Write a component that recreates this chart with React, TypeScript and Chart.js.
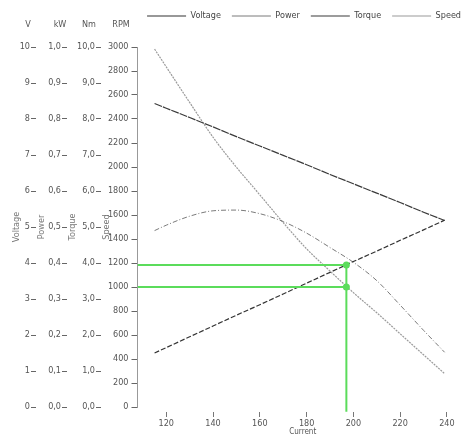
import { useEffect, useRef } from "react";
import { Chart, registerables } from "chart.js";

Chart.register(...registerables);

// ---- data ----
const currents = [115, 120, 130, 140, 150, 160, 170, 180, 190, 200, 210, 220, 230, 239];
const voltage = [1.5, 1.65, 1.95, 2.25, 2.55, 2.84, 3.14, 3.44, 3.74, 4.04, 4.33, 4.63, 4.92, 5.19];
const power = [0.49, 0.505, 0.53, 0.545, 0.547, 0.537, 0.515, 0.483, 0.443, 0.402, 0.351, 0.283, 0.213, 0.152];
const torque = [8.43, 8.3, 8.04, 7.78, 7.51, 7.25, 6.99, 6.73, 6.46, 6.2, 5.94, 5.68, 5.41, 5.18];
const speed = [2983, 2834, 2538, 2248, 1998, 1768, 1536, 1318, 1133, 953, 785, 610, 435, 278];

const seriesNames = ["Voltage", "Power", "Torque", "Speed"];
const unitLabels = ["V", "kW", "Nm", "RPM"];
const xTickValues = [120, 140, 160, 180, 200, 220, 240];
const xMin = 107.7;
const xMax = 249;
const xTitle = "Current";

const opCurrent = 197;
const opSpeedLevels = [1183, 1000];
const opFloor = -40;

const FONT = "'Liberation Sans Narrow', 'DejaVu Sans Condensed', 'Liberation Sans', Arial, sans-serif";
const GREEN = "#5bdc5b";

const comma1 = (v: number) => v.toFixed(1).replace(".", ",");

function yAxis(opts: {
  max: number;
  step: number;
  fmt: (v: number) => string;
  title: string;
  weight: number;
  width: number;
  rpm?: boolean;
}) {
  return {
    type: "linear" as const,
    position: "left" as const,
    weight: opts.weight,
    min: 0,
    max: opts.max,
    ticks: {
      stepSize: opts.step,
      color: "#555",
      padding: opts.rpm ? 3 : 1,
      font: { family: FONT, size: 9 },
      autoSkip: false,
      callback: (v: any) => opts.fmt(Number(v)),
    },
    grid: {
      display: true,
      drawOnChartArea: false,
      drawTicks: true,
      tickLength: opts.rpm ? 6 : 5,
      tickColor: "#666",
      tickWidth: 1,
    },
    border: opts.rpm
      ? { display: true, color: "#999", dash: [1, 2], width: 1 }
      : { display: false },
    title: {
      display: true,
      text: opts.title,
      color: "#777",
      font: { family: FONT, size: 9 },
      padding: 0,
    },
    afterFit: (s: any) => {
      s.width = opts.width;
    },
  };
}

const unitLabelPlugin = {
  id: "unitLabels",
  afterDraw(chart: any) {
    const ids = ["yV", "yP", "yT", "yS"];
    const offsets = [8, 7, 12, 16.5];
    const ctx = chart.ctx;
    ctx.save();
    ctx.font = `9px ${FONT}`;
    ctx.fillStyle = "#555";
    ctx.textAlign = "center";
    ctx.textBaseline = "middle";
    ids.forEach((id, i) => {
      const s = chart.scales[id];
      ctx.fillText(unitLabels[i], s.right - offsets[i], chart.chartArea.top - 22);
    });
    ctx.restore();
  },
};

export default function App() {
  const ref = useRef<HTMLCanvasElement | null>(null);

  useEffect(() => {
    if (!ref.current) return;
    const pts = (ys: number[]) => currents.map((x, i) => ({ x, y: ys[i] }));

    const chart = new Chart(ref.current, {
      type: "line",
      data: {
        datasets: [
          {
            label: seriesNames[0],
            data: pts(voltage),
            yAxisID: "yV",
            borderColor: "#333",
            backgroundColor: "#333",
            borderWidth: 1.2,
            borderDash: [5, 2],
            pointRadius: 0,
          },
          {
            label: seriesNames[1],
            data: pts(power),
            yAxisID: "yP",
            borderColor: "#7a7a7a",
            backgroundColor: "#7a7a7a",
            borderWidth: 1,
            borderDash: [5, 2, 1, 2],
            pointRadius: 0,
            cubicInterpolationMode: "monotone",
          },
          {
            label: seriesNames[2],
            data: pts(torque),
            yAxisID: "yT",
            borderColor: "#3a3a3a",
            backgroundColor: "#3a3a3a",
            borderWidth: 1.2,
            borderDash: [8, 1],
            pointRadius: 0,
          },
          {
            label: seriesNames[3],
            data: pts(speed),
            yAxisID: "yS",
            borderColor: "#9a9a9a",
            backgroundColor: "#9a9a9a",
            borderWidth: 1.2,
            borderDash: [2, 1],
            pointRadius: 0,
            cubicInterpolationMode: "monotone",
          },
          ...opSpeedLevels.map((lvl, i) => ({
            label: "op" + i,
            data: [
              { x: xMin, y: lvl },
              { x: opCurrent, y: lvl },
            ],
            yAxisID: "yS",
            borderColor: GREEN,
            backgroundColor: GREEN,
            borderWidth: 2,
            pointRadius: [0, 3.5],
            pointBackgroundColor: GREEN,
            pointBorderWidth: 0,
            order: -1,
          })),
          {
            label: "opV",
            data: [
              { x: opCurrent, y: opSpeedLevels[0] },
              { x: opCurrent, y: opFloor },
            ],
            yAxisID: "yS",
            borderColor: GREEN,
            backgroundColor: GREEN,
            borderWidth: 2,
            pointRadius: 0,
            clip: false as any,
            order: -1,
          },
        ] as any,
      },
      options: {
        animation: false,
        responsive: false,
        maintainAspectRatio: false,
        layout: { padding: { top: 0.5, left: 11, right: 0, bottom: 0 } },
        plugins: {
          tooltip: { enabled: false },
          legend: {
            display: true,
            position: "top",
            align: "end",
            weight: 3000,
            labels: {
              usePointStyle: true,
              pointStyle: "line",
              pointStyleWidth: 39,
              boxWidth: 39,
              boxHeight: 9,
              padding: 11,
              color: "#444",
              font: { family: FONT, size: 9 },
              filter: (item: any) => seriesNames.includes(item.text),
            },
          } as any,
          title: {
            display: true,
            text: "",
            position: "top",
            font: { family: FONT, size: 10 },
            padding: { top: 0, bottom: 4.5 },
          },
        },
        scales: {
          x: {
            type: "linear",
            position: "bottom",
            min: xMin,
            max: xMax,
            afterBuildTicks: (axis: any) => {
              axis.ticks = xTickValues.map((value) => ({ value }));
            },
            ticks: {
              color: "#555",
              padding: 1,
              maxRotation: 0,
              autoSkip: false,
              font: { family: FONT, size: 9 },
              callback: (v: any) => String(v),
            },
            grid: {
              display: true,
              drawOnChartArea: false,
              drawTicks: true,
              tickLength: 10,
              tickColor: "#777",
              tickBorderDash: [0, 5, 5, 20],
            },
            border: { display: false },
            title: {
              display: true,
              text: xTitle,
              color: "#555",
              font: { family: FONT, size: 8 },
              padding: { top: 0, bottom: 2 },
            },
            afterFit: (s: any) => {
              s.height = 32;
            },
          },
          yV: yAxis({ max: 10, step: 1, fmt: (v) => String(Math.round(v)), title: "Voltage", weight: 4, width: 25 }),
          yP: yAxis({ max: 1, step: 0.1, fmt: comma1, title: "Power", weight: 3, width: 31 }),
          yT: yAxis({ max: 10, step: 1, fmt: comma1, title: "Torque", weight: 2, width: 34 }),
          yS: yAxis({ max: 3000, step: 200, fmt: (v) => String(Math.round(v)), title: "Speed", weight: 1, width: 36.5, rpm: true }),
        } as any,
      },
      plugins: [unitLabelPlugin],
    });

    return () => chart.destroy();
  }, []);

  return (
    <div style={{ position: "absolute", left: 0, top: 0, width: 472, height: 439, background: "#fff" }}>
      <canvas ref={ref} width={472} height={439} style={{ display: "block" }} />
    </div>
  );
}
